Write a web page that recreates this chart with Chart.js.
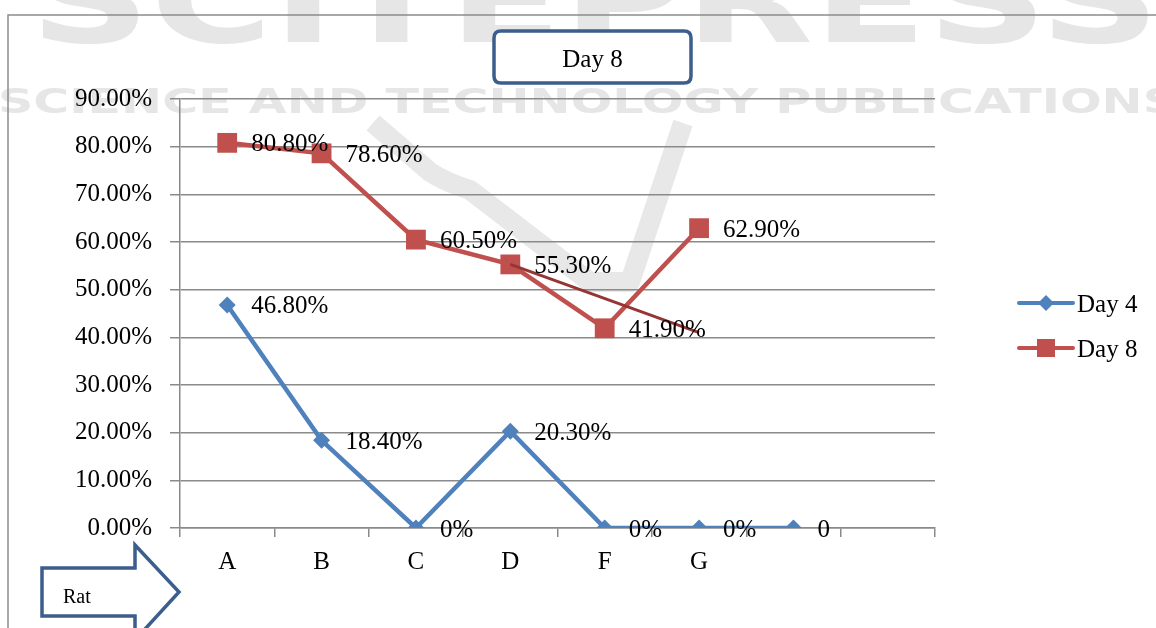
<html lang="en">
<head>
  <meta charset="utf-8" />
  <title>Day 8</title>
  <style>
    * { margin: 0; padding: 0; box-sizing: border-box; }
    body { background: #ffffff; }
    .wrapper { width: 1156px; height: 628px; position: relative; }
  </style>
</head>
<body>
  <div class="wrapper">
    <canvas id="chart" width="1156" height="628"></canvas>
  </div>
  <script src="https://cdn.jsdelivr.net/npm/chart.js@4.4.1/dist/chart.umd.min.js"></script>
  <script>
    // Categories on the x axis (two trailing empty slots like the original)
    const categories = ["A", "B", "C", "D", "F", "G", "", ""];

    // Series values (percent)
    const day4 = [46.8, 18.4, 0, 20.3, 0, 0, 0, null];
    const day8 = [80.8, 78.6, 60.5, 55.3, 41.9, 62.9, null, null];
    // Thin dark red line drawn from D down towards G
    const trend = [null, null, null, 55.3, null, 41, null, null];

    // Text written next to each point
    const day4Labels = ["46.80%", "18.40%", "0%", "20.30%", "0%", "0%", "0"];
    const day8Labels = ["80.80%", "78.60%", "60.50%", "55.30%", "41.90%", "62.90%"];

    const serif = '"Liberation Serif", "DejaVu Serif", serif';
    const blue = "#4F81BD";
    const red = "#C0504D";
    const navy = "#3B5E8C";
    const gridGray = "#8a8a8a";

    // Background: white + faint publisher watermark
    const backgroundPlugin = {
      id: "background",
      beforeDraw(chart) {
        const ctx = chart.ctx;
        ctx.save();
        ctx.fillStyle = "#ffffff";
        ctx.fillRect(0, 0, chart.width, chart.height);
        ctx.fillStyle = "#e6e6e6";
        ctx.textBaseline = "alphabetic";
        // big letters at the top
        ctx.font = 'bold 120px "DejaVu Sans", sans-serif';
        let w = ctx.measureText("SCITEPRESS").width;
        ctx.save();
        ctx.translate(30, 42);
        ctx.scale(1130 / w, 1);
        ctx.fillText("SCITEPRESS", 0, 0);
        ctx.restore();
        // row of small letters
        ctx.font = 'bold 34px "DejaVu Sans", sans-serif';
        w = ctx.measureText("SCIENCE AND TECHNOLOGY PUBLICATIONS").width;
        ctx.save();
        ctx.translate(-2, 113);
        ctx.scale(1180 / w, 1);
        ctx.fillText("SCIENCE AND TECHNOLOGY PUBLICATIONS", 0, 0);
        ctx.restore();
        // V shaped swoosh
        ctx.strokeStyle = "#e8e8e8";
        ctx.lineWidth = 20;
        ctx.lineJoin = "round";
        ctx.beginPath();
        ctx.moveTo(373, 123);
        ctx.lineTo(430, 172);
        ctx.quadraticCurveTo(445, 182, 470, 190);
        ctx.lineTo(590, 282);
        ctx.lineTo(630, 282);
        ctx.lineTo(683, 123);
        ctx.stroke();
        ctx.restore();
      }
    };

    // Value labels to the right of each marker
    const pointLabelPlugin = {
      id: "pointLabels",
      afterDatasetsDraw(chart) {
        const ctx = chart.ctx;
        ctx.save();
        ctx.font = "25px " + serif;
        ctx.fillStyle = "#000000";
        ctx.textAlign = "left";
        ctx.textBaseline = "middle";
        const sets = [[0, day4Labels], [1, day8Labels]];
        sets.forEach(([idx, texts]) => {
          const meta = chart.getDatasetMeta(idx);
          texts.forEach((t, i) => {
            const p = meta.data[i];
            if (!p || p.skip) return;
            ctx.fillText(t, p.x + 24, p.y + 2);
          });
        });
        ctx.restore();
      }
    };

    // Frame, title box, legend and arrow
    const decorPlugin = {
      id: "decor",
      afterDraw(chart) {
        const ctx = chart.ctx;
        ctx.save();

        // outer frame
        ctx.strokeStyle = "#8c8c8c";
        ctx.lineWidth = 1.5;
        ctx.beginPath();
        ctx.moveTo(1156, 15);
        ctx.lineTo(8, 15);
        ctx.lineTo(8, 628);
        ctx.stroke();

        // title box
        const bx = 494, by = 31, bw = 197, bh = 52, r = 7;
        ctx.beginPath();
        ctx.moveTo(bx + r, by);
        ctx.lineTo(bx + bw - r, by);
        ctx.quadraticCurveTo(bx + bw, by, bx + bw, by + r);
        ctx.lineTo(bx + bw, by + bh - r);
        ctx.quadraticCurveTo(bx + bw, by + bh, bx + bw - r, by + bh);
        ctx.lineTo(bx + r, by + bh);
        ctx.quadraticCurveTo(bx, by + bh, bx, by + bh - r);
        ctx.lineTo(bx, by + r);
        ctx.quadraticCurveTo(bx, by, bx + r, by);
        ctx.closePath();
        ctx.fillStyle = "#ffffff";
        ctx.fill();
        ctx.strokeStyle = navy;
        ctx.lineWidth = 3.5;
        ctx.stroke();
        ctx.fillStyle = "#000000";
        ctx.font = "25px " + serif;
        ctx.textAlign = "center";
        ctx.textBaseline = "middle";
        ctx.fillText("Day 8", bx + bw / 2, by + bh / 2 + 3);

        // legend
        const items = [
          { text: "Day 4", color: blue, y: 303, style: "diamond" },
          { text: "Day 8", color: red, y: 348, style: "square" }
        ];
        items.forEach((it) => {
          ctx.strokeStyle = it.color;
          ctx.lineWidth = 4;
          ctx.lineCap = "round";
          ctx.beginPath();
          ctx.moveTo(1019, it.y);
          ctx.lineTo(1073, it.y);
          ctx.stroke();
          ctx.fillStyle = it.color;
          ctx.beginPath();
          if (it.style === "diamond") {
            ctx.moveTo(1046, it.y - 8);
            ctx.lineTo(1054, it.y);
            ctx.lineTo(1046, it.y + 8);
            ctx.lineTo(1038, it.y);
          } else {
            ctx.rect(1037, it.y - 9, 18, 18);
          }
          ctx.closePath();
          ctx.fill();
          ctx.fillStyle = "#000000";
          ctx.textAlign = "left";
          ctx.textBaseline = "middle";
          ctx.font = "25px " + serif;
          ctx.fillText(it.text, 1077, it.y + 2);
        });

        // block arrow with "Rat"
        ctx.beginPath();
        ctx.moveTo(42, 568);
        ctx.lineTo(135, 568);
        ctx.lineTo(135, 545);
        ctx.lineTo(179, 592);
        ctx.lineTo(135, 640);
        ctx.lineTo(135, 616);
        ctx.lineTo(42, 616);
        ctx.closePath();
        ctx.fillStyle = "#ffffff";
        ctx.fill();
        ctx.strokeStyle = navy;
        ctx.lineWidth = 3.5;
        ctx.lineJoin = "miter";
        ctx.stroke();
        ctx.fillStyle = "#000000";
        ctx.font = "20px " + serif;
        ctx.textAlign = "left";
        ctx.textBaseline = "middle";
        ctx.fillText("Rat", 63, 598);

        ctx.restore();
      }
    };

    new Chart(document.getElementById("chart"), {
      type: "line",
      plugins: [backgroundPlugin, pointLabelPlugin, decorPlugin],
      data: {
        labels: categories,
        datasets: [
          {
            label: "Day 4",
            data: day4,
            borderColor: blue,
            backgroundColor: blue,
            borderWidth: 4.5,
            pointStyle: "rectRot",
            pointRadius: 8.5,
            pointBorderWidth: 0,
            tension: 0,
            order: 1
          },
          {
            label: "Day 8",
            data: day8,
            borderColor: red,
            backgroundColor: red,
            borderWidth: 4.5,
            pointStyle: "rect",
            pointRadius: 14,
            pointBorderWidth: 0,
            tension: 0,
            order: 2
          },
          {
            label: "trend",
            data: trend,
            borderColor: "#963634",
            borderWidth: 3,
            pointRadius: 0,
            spanGaps: true,
            tension: 0,
            order: 0
          }
        ]
      },
      options: {
        responsive: false,
        animation: false,
        layout: { padding: { top: 99, right: 221, left: 0, bottom: 0 } },
        plugins: {
          legend: { display: false },
          tooltip: { enabled: false },
          title: { display: false }
        },
        scales: {
          x: {
            offset: true,
            grid: {
              offset: true,
              drawOnChartArea: false,
              drawTicks: true,
              tickLength: 9,
              color: gridGray,
              lineWidth: 1.5
            },
            border: { color: gridGray, width: 1.5 },
            ticks: {
              color: "#000000",
              font: { family: serif, size: 25 },
              padding: 10,
              maxRotation: 0,
              autoSkip: false
            },
            afterFit(scale) { scale.height = 100; }
          },
          y: {
            min: 0,
            max: 90,
            grid: {
              color: gridGray,
              lineWidth: 1.5,
              tickLength: 10
            },
            border: { color: gridGray, width: 1.5 },
            ticks: {
              stepSize: 10,
              color: "#000000",
              font: { family: serif, size: 25 },
              padding: 18,
              callback: (v) => v.toFixed(2) + "%"
            },
            afterFit(scale) { scale.width = 180; }
          }
        }
      }
    });
  </script>
</body>
</html>
